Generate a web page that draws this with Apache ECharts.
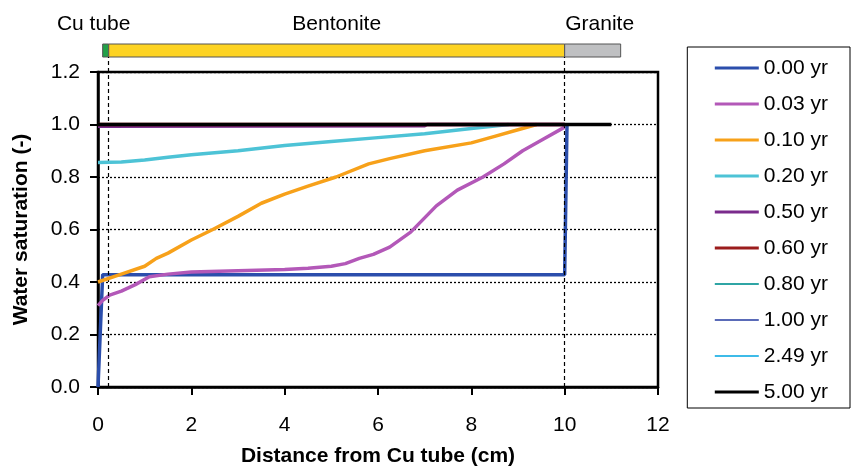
<!DOCTYPE html>
<html><head><meta charset="utf-8">
<script src="https://cdn.jsdelivr.net/npm/echarts@6/dist/echarts.min.js"></script>
<style>html,body{margin:0;padding:0;background:#fff}#c{width:853px;height:468px}</style>
</head><body><div id="c"></div>
<script>
// ---- data ----
const seriesNames = ['0.00 yr','0.03 yr','0.10 yr','0.20 yr','0.50 yr','0.60 yr','0.80 yr','1.00 yr','2.49 yr','5.00 yr'];
const s000 = [[0,0],[0.1,0.428],[10.0,0.428],[10.05,1.0]];
const s003 = [[0,0.31],[0.1,0.33],[0.25,0.35],[0.5,0.365],[0.8,0.39],[1.1,0.42],[1.5,0.43],[2,0.438],[3,0.443],[4,0.448],[4.5,0.452],[5,0.46],[5.3,0.47],[5.6,0.49],[5.9,0.505],[6.25,0.533],[6.7,0.59],[7.25,0.69],[7.7,0.75],[8.25,0.80],[8.7,0.85],[9.1,0.90],[9.5,0.94],[10,0.99]];
const s010 = [[0,0.40],[0.5,0.43],[1,0.46],[1.25,0.49],[1.5,0.51],[2,0.56],[2.46,0.60],[3,0.65],[3.5,0.70],[4,0.735],[4.5,0.765],[5.1,0.80],[5.8,0.85],[6.25,0.87],[7,0.90],[8,0.93],[8.5,0.955],[9,0.98],[9.4,1.0]];
const s020 = [[0,0.855],[0.5,0.857],[1,0.865],[1.5,0.875],[2,0.885],[3,0.90],[4,0.92],[5,0.935],[6,0.95],[7,0.965],[8,0.985],[8.8,1.0]];
const s050 = [[0,0.993],[7.0,0.995],[7.05,1.0],[10,1.0]];
const s060 = [[0,1.0],[10,1.0]];
const s080 = [[0,1.0],[10,1.0]];
const s100 = [[0,1.0],[10,1.0]];
const s249 = [[0,1.0],[10,1.0]];
const s500 = [[0,1.0],[11,1.0]];
const seriesData = [s000,s003,s010,s020,s050,s060,s080,s100,s249,s500];
const colors = ['#2b4eac','#b358b8','#f7a11a','#4dc3d6','#7a2b8c','#9b1c1c','#2fa5a5','#5a6bb8','#3ebbe8','#000000'];
const widths = [3.5,3.5,3.5,3.5,3.5,3.5,2.5,2.5,2.5,3.5];
const xTicks = [0,2,4,6,8,10,12];
const yTicks = [0,0.2,0.4,0.6,0.8,1.0,1.2];
// material layers along x (cm)
const layerNames = ['Cu tube','Bentonite','Granite'];
const layerRanges = [[0.1,0.23],[0.23,10.0],[10.0,11.2]];
const layerColors = ['#22a048','#fdd323','#bfc0c2'];
const boundaryLines = [0.22, 10.0];

const font = 'Liberation Sans, Arial, sans-serif';
const FS = 21;
const chart = echarts.init(document.getElementById('c'));

const labelOffsets = [[-12,0],[0,0],[7,0]];
const series = seriesData.map((d,i)=>({
  name: seriesNames[i], type:'line', xAxisIndex:0, yAxisIndex:0,
  data:d, symbol:'none', showSymbol:false, smooth:false,
  lineStyle:{color:colors[i], width:widths[i]}, itemStyle:{color:colors[i]},
  z: 3 + i
}));
// layer bar
series.push({
  type:'line', xAxisIndex:1, yAxisIndex:1, data:[], silent:true,
  markArea:{ silent:true,
    data: layerRanges.map((r,i)=>[
      {xAxis:r[0], itemStyle:{color:layerColors[i], borderColor:'#555', borderWidth:1},
       label:{show:true, position:'top', distance:9, formatter:layerNames[i], color:'#000', fontSize:FS, fontFamily:font, offset:labelOffsets[i]}},
      {xAxis:r[1]}
    ])
  }
});
// dashed boundary lines
series.push({
  type:'line', xAxisIndex:2, yAxisIndex:2, data:[], silent:true,
  markLine:{ silent:true, symbol:'none', label:{show:false},
    lineStyle:{color:'#000', type:[4,3], width:1.2},
    data: boundaryLines.map(v=>({xAxis:v}))
  }
});

const L=98, R=195;
chart.setOption({
  animation:false,
  backgroundColor:'#fff',
  grid:[
    {left:L, right:R, top:72, bottom:81, show:true, borderColor:'#000', borderWidth:2.5, backgroundColor:'transparent', outerBoundsMode:'none', containLabel:false},
    {left:L, right:R, top:44, height:13, outerBoundsMode:'none', containLabel:false},
    {left:L, right:R, top:57, bottom:81, outerBoundsMode:'none', containLabel:false}
  ],
  legend:{
    data:seriesNames.map((n,i)=>({name:n, lineStyle:{width:widths[i]-0.5, color:colors[i]}})),
    orient:'vertical', right:3, top:47,
    borderColor:'#000', borderWidth:1, padding:[10,22,5,26],
    itemWidth:44, itemHeight:14, itemGap:14, itemTextGap:6,
    itemStyle:{opacity:0},
    textStyle:{fontSize:FS, lineHeight:22, fontFamily:font, color:'#000'}
  },
  xAxis:[
    {gridIndex:0, type:'value', min:0, max:12, interval:2,
     name:'Distance from Cu tube (cm)', nameLocation:'middle', nameGap:59,
     nameTextStyle:{fontSize:FS, fontWeight:'bold', fontFamily:font, color:'#000'},
     axisLine:{show:true, lineStyle:{color:'#000', width:2.5}},
     axisTick:{show:true, inside:false, length:8, lineStyle:{color:'#000', width:2}},
     axisLabel:{fontSize:FS, fontFamily:font, color:'#000', margin:28},
     splitLine:{show:false}},
    {gridIndex:1, type:'value', min:0, max:12, show:false},
    {gridIndex:2, type:'value', min:0, max:12, show:false}
  ],
  yAxis:[
    {gridIndex:0, type:'value', min:0, max:1.2, interval:0.2,
     name:'Water saturation (-)', nameLocation:'middle', nameGap:66, nameRotate:90,
     nameTextStyle:{fontSize:FS, fontWeight:'bold', fontFamily:font, color:'#000'},
     axisLine:{show:true, lineStyle:{color:'#000', width:2.5}},
     axisTick:{show:true, inside:false, length:8, lineStyle:{color:'#000', width:2}},
     axisLabel:{fontSize:FS, fontFamily:font, color:'#000', margin:18, formatter:v=>v.toFixed(1)},
     splitLine:{show:true, lineStyle:{color:'#000', type:[2,2], width:1.3}}},
    {gridIndex:1, type:'value', min:0, max:1, show:false},
    {gridIndex:2, type:'value', min:0, max:1, show:false}
  ],
  series: series
});
</script>
</body></html>
